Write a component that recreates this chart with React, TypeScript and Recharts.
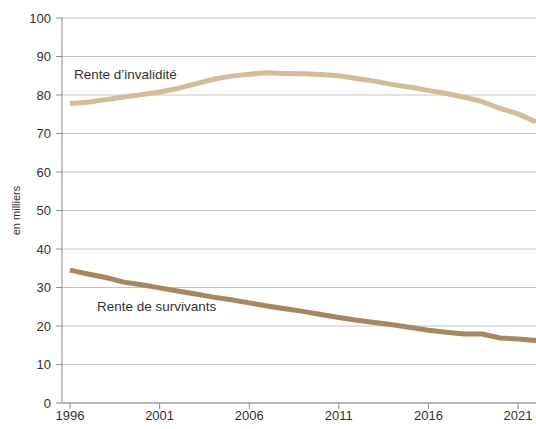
import { LineChart, Line, CartesianGrid, XAxis, YAxis } from 'recharts';

const years = [
  1996, 1997, 1998, 1999, 2000, 2001, 2002, 2003, 2004, 2005, 2006, 2007, 2008,
  2009, 2010, 2011, 2012, 2013, 2014, 2015, 2016, 2017, 2018, 2019, 2020, 2021, 2022,
];

// en milliers
const invalidite = [
  77.8, 78.1, 78.8, 79.5, 80.1, 80.8, 81.7, 82.9, 84.1, 84.9, 85.4, 85.8, 85.6,
  85.5, 85.3, 85.0, 84.3, 83.6, 82.7, 82.0, 81.2, 80.4, 79.4, 78.3, 76.5, 75.1, 73.0,
];

const survivants = [
  34.5, 33.5, 32.6, 31.4, 30.7, 29.9, 29.1, 28.3, 27.5, 26.8, 26.0, 25.2, 24.5,
  23.8, 23.0, 22.2, 21.5, 20.9, 20.3, 19.6, 18.9, 18.4, 17.9, 17.9, 16.9, 16.6, 16.2,
];

const xTicks = [1996, 2001, 2006, 2011, 2016, 2021];
const yTicks = [0, 10, 20, 30, 40, 50, 60, 70, 80, 90, 100];

const chartData = years.map((year, i) => ({
  year,
  invalidite: invalidite[i],
  survivants: survivants[i],
}));

const font = '"Liberation Sans", Arial, sans-serif';
const axisColor = '#8c8c8c';

export default function App() {
  return (
    <div
      style={{
        position: 'absolute',
        left: 0,
        top: 0,
        width: 536,
        height: 429,
        overflow: 'hidden',
        background: '#fff',
        fontFamily: font,
      }}
    >
      <LineChart
        width={536}
        height={429}
        data={chartData}
        margin={{ top: 18, right: 0, bottom: 0, left: 0 }}
      >
        <CartesianGrid vertical={false} stroke="#c4c4c4" strokeWidth={1} />
        <XAxis
          dataKey="year"
          type="number"
          domain={[1996, 2022]}
          ticks={xTicks}
          padding={{ left: 8, right: 0 }}
          height={26}
          tickSize={6}
          tickMargin={2}
          stroke={axisColor}
          tick={{ fill: '#333', fontSize: 13, fontFamily: font }}
          interval={0}
        />
        <YAxis
          domain={[0, 100]}
          ticks={yTicks}
          width={62}
          tickSize={6}
          tickMargin={5}
          stroke={axisColor}
          interval={0}
          tick={{ fill: '#333', fontSize: 13, fontFamily: font }}
          label={{
            value: 'en milliers',
            angle: -90,
            position: 'insideLeft',
            offset: 16,
            style: { fill: '#333', fontSize: 11, fontFamily: font, textAnchor: 'middle' },
          }}
        />
        <Line
          type="linear"
          dataKey="invalidite"
          stroke="#d4bc98"
          strokeWidth={5}
          dot={false}
          isAnimationActive={false}
        />
        <Line
          type="linear"
          dataKey="survivants"
          stroke="#a88660"
          strokeWidth={5}
          dot={false}
          isAnimationActive={false}
        />
      </LineChart>
      <div
        style={{
          position: 'absolute',
          left: 74,
          top: 67,
          fontSize: 13.5,
          color: '#333',
          whiteSpace: 'nowrap',
        }}
      >
        Rente d’invalidité
      </div>
      <div
        style={{
          position: 'absolute',
          left: 97,
          top: 299,
          fontSize: 13.5,
          color: '#333',
          whiteSpace: 'nowrap',
        }}
      >
        Rente de survivants
      </div>
    </div>
  );
}
